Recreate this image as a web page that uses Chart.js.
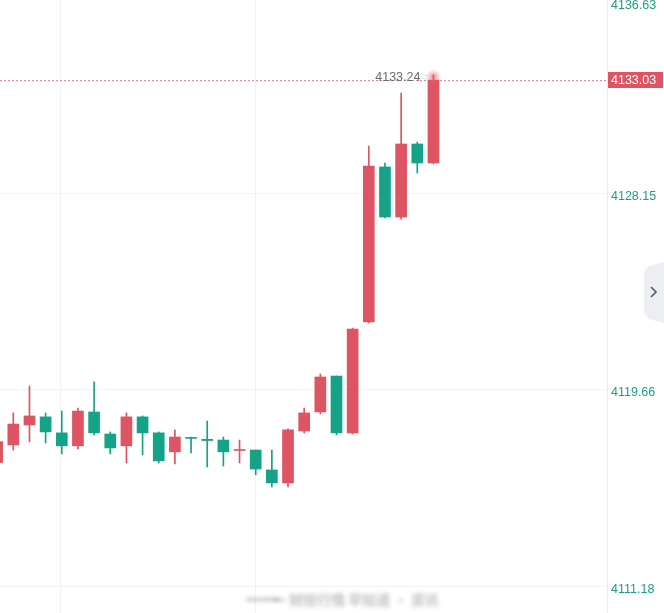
<!DOCTYPE html>
<html>
<head>
<meta charset="utf-8">
<script src="https://cdn.jsdelivr.net/npm/chart.js@4"></script>
<style>
  html, body { margin: 0; padding: 0; background: #ffffff; }
  #wrap { width: 664px; height: 613px; position: relative; }
</style>
</head>
<body>
<div id="wrap"><canvas id="c" width="664" height="613"></canvas></div>
<script>
// ---- data ----
const opens  = [4116.53, 4117.29, 4118.15, 4118.50, 4117.81, 4117.25, 4118.71, 4117.76, 4117.25, 4118.50,
                4117.81, 4116.99, 4117.61, 4117.53, 4117.50, 4117.05, 4117.07, 4116.21, 4115.65, 4117.89,
                4118.71, 4120.26, 4117.81, 4122.59, 4129.28, 4127.12, 4130.27, 4129.45];
const highs  = [4117.59, 4118.67, 4119.83, 4118.67, 4118.75, 4118.88, 4120.01, 4117.85, 4118.67, 4118.54,
                4117.85, 4117.94, 4117.63, 4118.32, 4117.63, 4117.50, 4117.07, 4117.07, 4117.98, 4118.88,
                4120.35, 4120.26, 4122.33, 4130.18, 4129.45, 4132.47, 4130.35, 4133.24];
const lows   = [4116.38, 4117.07, 4117.42, 4117.37, 4116.90, 4117.12, 4117.72, 4116.90, 4116.51, 4116.86,
                4116.51, 4116.47, 4116.94, 4116.34, 4116.38, 4116.51, 4116.00, 4115.48, 4115.48, 4117.81,
                4118.63, 4117.72, 4117.76, 4122.55, 4127.08, 4127.03, 4129.02, 4129.41];
const closes = [4117.43, 4118.19, 4118.54, 4117.85, 4117.25, 4118.75, 4117.81, 4117.16, 4118.50, 4117.81,
                4116.60, 4117.63, 4117.57, 4117.48, 4116.99, 4117.09, 4116.25, 4115.65, 4117.94, 4118.67,
                4120.22, 4117.81, 4122.29, 4129.32, 4127.12, 4130.27, 4129.45, 4133.03];
const priceTicks = [4136.63, 4128.15, 4119.66, 4111.18];
const lastPrice = 4133.03;
const highLabel = 4133.24;
const timeGrid = [3.95, 15.96];

// ---- styles ----
const UP = '#dd5462';
const DOWN = '#14a386';
const AXIS_TXT = '#1d9e86';
const GRID = '#f3f3f3';

const idx = opens.map((_, i) => i);
const colors = idx.map(i => closes[i] >= opens[i] ? UP : DOWN);
const bodies = idx.map(i => ({ x: i, y: [opens[i], closes[i]] }));
const wicks = idx.map(i => ({ x: i, y: [lows[i], highs[i]] }));

const overlay = {
  id: 'overlay',
  beforeDatasetsDraw(chart) {
    const { ctx, chartArea, scales } = chart;
    const y = scales.y;
    const py = Math.round(y.getPixelForValue(lastPrice)) + 0.5;
    ctx.save();
    ctx.strokeStyle = 'rgba(221,84,98,0.7)';
    ctx.lineWidth = 1;
    ctx.setLineDash([2, 2]);
    ctx.beginPath();
    ctx.moveTo(chartArea.left, py);
    ctx.lineTo(chartArea.right, py);
    ctx.stroke();
    ctx.restore();
  },
  afterDraw(chart) {
    const { ctx, chartArea, scales } = chart;
    const y = scales.y, x = scales.x;
    ctx.save();
    // axis labels
    ctx.font = '12.5px "Liberation Sans", Arial, sans-serif';
    ctx.textBaseline = 'middle';
    ctx.textAlign = 'left';
    ctx.fillStyle = AXIS_TXT;
    priceTicks.forEach(v => {
      let py = y.getPixelForValue(v) + 3;
      if (py < 6) py = 6;
      ctx.fillText(v.toFixed(2), chartArea.right + 4, py);
    });
    // last price box
    const lp = y.getPixelForValue(lastPrice);
    ctx.fillStyle = UP;
    ctx.fillRect(chartArea.right + 1, Math.round(lp) - 8, 55, 16);
    ctx.fillStyle = '#ffffff';
    ctx.fillText(lastPrice.toFixed(2), chartArea.right + 4, lp + 1);

    // glow at last high
    const li = opens.length - 1;
    const gx = x.getPixelForValue(li), gy = y.getPixelForValue(highLabel);
    const grad = ctx.createRadialGradient(gx, gy + 2, 0, gx, gy + 2, 8);
    grad.addColorStop(0, 'rgba(232,95,115,0.75)');
    grad.addColorStop(0.5, 'rgba(232,95,115,0.35)');
    grad.addColorStop(1, 'rgba(232,95,115,0)');
    ctx.fillStyle = grad;
    ctx.beginPath();
    ctx.arc(gx, gy + 2, 8, 0, Math.PI * 2);
    ctx.fill();

    // high label
    ctx.font = '12.5px "Liberation Sans", Arial, sans-serif';
    ctx.textAlign = 'right';
    ctx.fillStyle = '#6b6b6b';
    ctx.fillText(highLabel.toFixed(2), gx - 13, gy + 2);
    ctx.fillStyle = 'rgba(180,180,180,0.6)';
    ctx.fillRect(gx - 11, gy, 1, 1); ctx.fillRect(gx - 9, gy, 1, 1); ctx.fillRect(gx - 7, gy, 1, 1);
    ctx.fillRect(gx - 11, gy + 3, 1, 1); ctx.fillRect(gx - 9, gy + 3, 1, 1); ctx.fillRect(gx - 7, gy + 3, 1, 1);

    // blurred watermark
    ctx.filter = 'blur(2px)';
    ctx.fillStyle = 'rgba(150,150,150,0.6)';
    ctx.fillRect(246, 598, 34, 3);
    ctx.font = 'bold 14px "Noto Sans CJK SC", sans-serif';
    ctx.textAlign = 'left';
    ctx.fillStyle = 'rgba(140,140,140,0.55)';
    ctx.fillText('一 财经行情 早知道 · 资讯', 272, 600);
    ctx.filter = 'none';

    // side button
    ctx.fillStyle = '#eceef2';
    ctx.beginPath();
    ctx.moveTo(664, 262);
    ctx.lineTo(649, 266);
    ctx.lineTo(644, 272);
    ctx.lineTo(644, 313);
    ctx.lineTo(649, 319);
    ctx.lineTo(664, 323);
    ctx.closePath();
    ctx.fill();
    ctx.strokeStyle = '#555a63';
    ctx.lineWidth = 1.6;
    ctx.beginPath();
    ctx.moveTo(651, 287);
    ctx.lineTo(656, 292);
    ctx.lineTo(651, 297);
    ctx.stroke();
    ctx.restore();
  }
};

new Chart(document.getElementById('c'), {
  type: 'bar',
  data: {
    datasets: [
      { data: wicks, backgroundColor: colors, barThickness: 1, borderWidth: 0, grouped: false, order: 2 },
      { data: bodies, backgroundColor: colors, barThickness: 11, borderWidth: 0, borderSkipped: false, minBarLength: 1, grouped: false, order: 1 }
    ]
  },
  options: {
    responsive: false,
    animation: false,
    events: [],
    layout: { padding: 0 },
    plugins: { legend: { display: false }, tooltip: { enabled: false } },
    scales: {
      x: {
        type: 'linear',
        min: 0.177,
        max: 37.74,
        offset: false,
        afterBuildTicks: s => { s.ticks = timeGrid.map(v => ({ value: v })); },
        ticks: { display: false },
        grid: { color: GRID, drawTicks: false, offset: false },
        border: { display: false }
      },
      y: {
        position: 'right',
        min: 4110.04,
        max: 4136.48,
        afterBuildTicks: s => { s.ticks = priceTicks.filter(v => v >= s.min && v <= s.max).map(v => ({ value: v })); },
        afterFit: s => { s.width = 57; },
        ticks: { display: false },
        grid: { color: GRID, drawTicks: false },
        border: { display: true, color: '#ebebeb' }
      }
    }
  },
  plugins: [overlay]
});
</script>
</body>
</html>
